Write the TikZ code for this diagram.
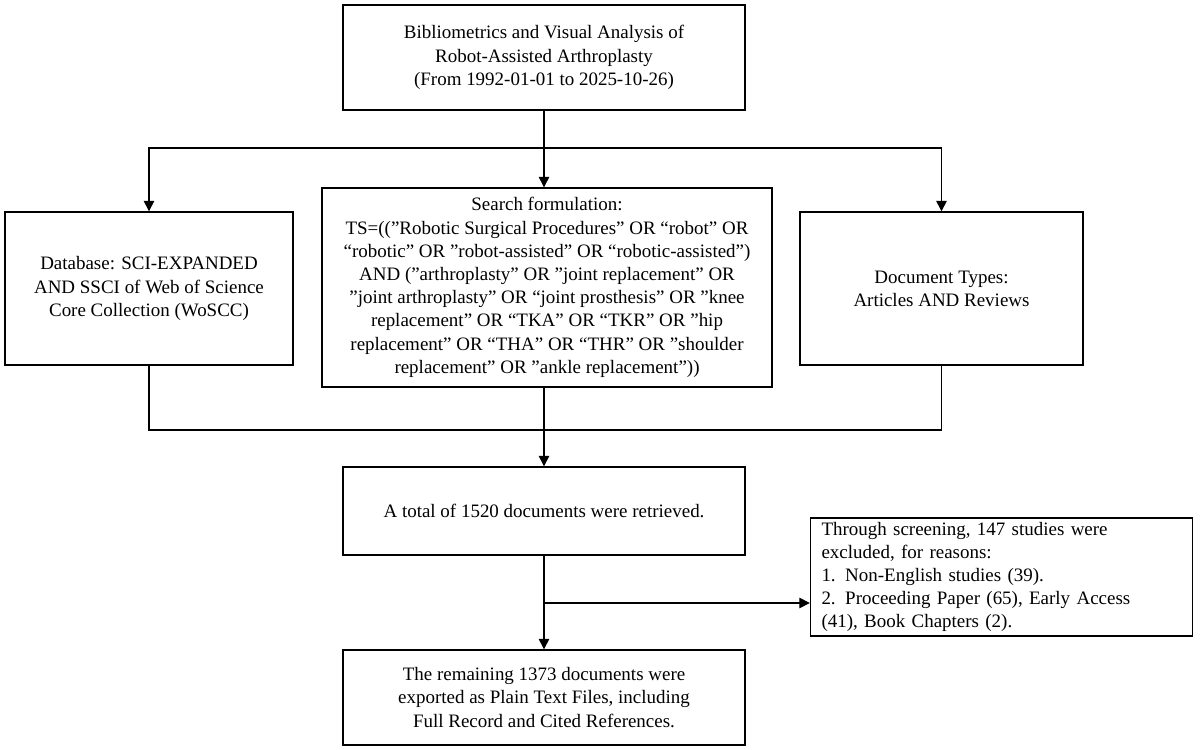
\documentclass[tikz,border=0pt]{standalone}
\usepackage{fontspec}
\setmainfont{Liberation Serif}
\usepackage{tikz}
\usetikzlibrary{arrows.meta}
\newcommand{\sq}{\symbol{34}}
\tikzset{%
	block/.style = {draw, thick, rectangle, inner sep=2pt, align=center,
		font=\fontsize{10.8}{13.2}\selectfont},
	junction/.style  = {coordinate}
}
\begin{document}
\begin{tikzpicture}[x=0.02cm,y=-0.02cm,>={Triangle[length=6pt,width=6pt]},thick]
	\useasboundingbox (0,0) rectangle (1200,750);
	
	\node[block,minimum width=402*0.02cm,minimum height=105*0.02cm] at (544,57.5) (title) {Bibliometrics and Visual Analysis of\\Robot-Assisted Arthroplasty\\(From 1992-01-01 to 2025-10-26)};
	\node[block,minimum width=288*0.02cm,minimum height=153*0.02cm] at (149,288.5) (db) {Database: SCI-EXPANDED\\AND SSCI of Web of Science\\Core Collection (WoSCC)};
	\node[block,minimum width=450*0.02cm,minimum height=199*0.02cm] at (547,287.5) (search) {Search formulation:\\TS=((\sq Robotic Surgical Procedures\sq{} OR “robot” OR\\“robotic” OR \sq robot-assisted\sq{} OR “robotic-assisted”)\\AND (\sq arthroplasty\sq{} OR \sq joint replacement\sq{} OR\\\sq joint arthroplasty\sq{} OR “joint prosthesis” OR \sq knee\\replacement\sq{} OR “TKA” OR “TKR” OR \sq hip\\replacement\sq{} OR “THA” OR “THR” OR \sq shoulder\\replacement\sq{} OR \sq ankle replacement\sq))};
	\node[block,minimum width=283*0.02cm,minimum height=153*0.02cm] at (941.5,288.5) (types) {Document Types:\\Articles AND Reviews};
	\node[block,minimum width=402*0.02cm,minimum height=88*0.02cm] at (544,511) (total) {A total of 1520 documents were retrieved.};
	\node[block,align=left,text width=360*0.02cm,inner xsep=11*0.02cm,minimum height=118*0.02cm] at (1001.5,577) (excl) {Through screening, 147 studies were\\excluded, for reasons:\\1. Non-English studies (39).\\2. Proceeding Paper (65), Early Access\\(41), Book Chapters (2).};
	\node[block,minimum width=402*0.02cm,minimum height=95*0.02cm] at (544,697.5) (final) {The remaining 1373 documents were\\exported as Plain Text Files, including\\Full Record and Cited References.};
	
	\node[junction] at (544,148) (split) {};
	\node[junction] at (544,430) (merge) {};
	\node[junction] at (544,603) (branch) {};
	
	\draw (title) -- (split);
	\draw[->] (split) -| (db);
	\draw[->] (split) -- (search.north -| split);
	\draw[->] (split) -| (types);
	\draw (db) |- (merge);
	\draw (types) |- (merge);
	\draw[->] (search.south -| merge) -- (total);
	\draw[->] (total) -- (final);
	\draw[->] (branch) -- (branch -| excl.west);
	
\end{tikzpicture}
\end{document}
